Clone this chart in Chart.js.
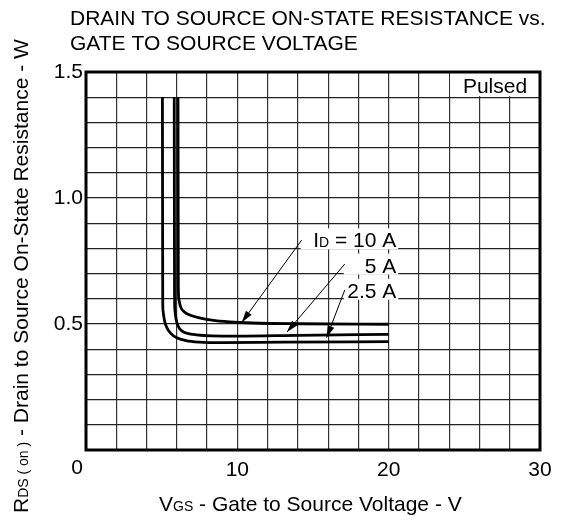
<!DOCTYPE html>
<html>
<head>
<meta charset="utf-8">
<script src="https://cdn.jsdelivr.net/npm/chart.js@4.4.1/dist/chart.umd.min.js"></script>
<style>
  html, body { margin: 0; padding: 0; background: #fff; }
  #wrap { width: 566px; height: 520px; position: relative; }
</style>
</head>
<body>
<div id="wrap"><canvas id="chart"></canvas></div>
<script>
// V_GS (V) and R_DS(on) (ohm)
const vgs10 = [6.08, 6.1, 6.13, 6.25, 6.5, 6.9, 7.5, 8.3, 9.5, 11, 14, 20];
const rds10 = [1.40, 0.66, 0.60, 0.568, 0.548, 0.535, 0.524, 0.515, 0.508, 0.504, 0.501, 0.499];

const vgs5 = [5.83, 5.85, 5.87, 5.95, 6.1, 6.35, 6.7, 7.3, 8.3, 10, 14, 20];
const rds5 = [1.40, 0.62, 0.56, 0.52, 0.49, 0.472, 0.463, 0.457, 0.453, 0.452, 0.455, 0.459];

const vgs25 = [5.05, 5.07, 5.09, 5.2, 5.35, 5.6, 6.0, 6.6, 7.5, 9, 13, 20];
const rds25 = [1.40, 0.60, 0.552, 0.51, 0.485, 0.463, 0.445, 0.434, 0.428, 0.426, 0.428, 0.430];

const xTickLabels = [10, 20, 30];
const yTickLabels = ['0.5', '1.0', '1.5'];

// leader labels, in data units
const curveNotes = [
  { text: ['I', 'D', ' = 10 A'], labelX: 20.5, labelY: 0.8, fromX: 14.25, fromY: 0.833, toX: 10.29, toY: 0.506 },
  { text: ['', '', '5 A'], labelX: 20.5, labelY: 0.7, fromX: 17.1, fromY: 0.738, toX: 13.28, toY: 0.468 },
  { text: ['', '', '2.5 A'], labelX: 20.5, labelY: 0.6, fromX: 17.1, fromY: 0.635, toX: 15.9, toY: 0.446 },
];

const FONT = '"Liberation Sans", Arial, sans-serif';
const BIG = 21;
const SMALL = 14;

function toPoints(xs, ys) {
  return xs.map((x, i) => ({ x: x, y: ys[i] }));
}

function drawRich(ctx, parts, x, y) {
  let cx = x;
  parts.forEach((p) => {
    ctx.font = p.size + 'px ' + FONT;
    ctx.fillText(p.t, cx, y);
    cx += ctx.measureText(p.t).width;
  });
}

function richWidth(ctx, parts) {
  let w = 0;
  parts.forEach((p) => {
    ctx.font = p.size + 'px ' + FONT;
    w += ctx.measureText(p.t).width;
  });
  return w;
}

function noteParts(text) {
  return [
    { t: text[0], size: BIG },
    { t: text[1], size: SMALL },
    { t: text[2], size: BIG },
  ];
}

const datasheetText = {
  id: 'datasheetText',
  beforeDatasetsDraw(chart) {
    const { ctx, chartArea, scales: { x, y } } = chart;
    ctx.save();
    ctx.fillStyle = '#fff';
    // box behind "Pulsed"
    ctx.fillRect(x.getPixelForValue(24) + 1, chartArea.top, chartArea.right - x.getPixelForValue(24) - 1, y.getPixelForValue(1.4) - chartArea.top - 1);
    // boxes behind the current labels
    curveNotes.forEach((n) => {
      const right = x.getPixelForValue(n.labelX);
      const base = y.getPixelForValue(n.labelY);
      const left = Math.min(right - richWidth(ctx, noteParts(n.text)), x.getPixelForValue(n.fromX)) - 1;
      ctx.fillStyle = '#fff';
      ctx.fillRect(left, base - 20, right - left + 2, 21);
    });
    ctx.restore();
  },
  afterDraw(chart) {
    const { ctx, chartArea, scales: { x, y } } = chart;
    ctx.save();

    // frame
    ctx.strokeStyle = '#000';
    ctx.lineWidth = 3;
    ctx.strokeRect(chartArea.left, chartArea.top, chartArea.right - chartArea.left, chartArea.bottom - chartArea.top);

    ctx.fillStyle = '#000';
    ctx.textBaseline = 'alphabetic';

    // Pulsed
    ctx.font = BIG + 'px ' + FONT;
    ctx.textAlign = 'right';
    ctx.fillText('Pulsed', x.getPixelForValue(29.15), y.getPixelForValue(1.417));
    ctx.textAlign = 'left';

    // leaders with arrow heads
    curveNotes.forEach((n) => {
      const x0 = x.getPixelForValue(n.fromX);
      const y0 = y.getPixelForValue(n.fromY);
      const x1 = x.getPixelForValue(n.toX);
      const y1 = y.getPixelForValue(n.toY);
      const ang = Math.atan2(y1 - y0, x1 - x0);
      ctx.strokeStyle = '#000';
      ctx.lineWidth = 1;
      ctx.beginPath();
      ctx.moveTo(x0, y0);
      ctx.lineTo(x1, y1);
      ctx.stroke();
      ctx.beginPath();
      ctx.moveTo(x1, y1);
      ctx.lineTo(x1 - 12 * Math.cos(ang) + 3.5 * Math.sin(ang), y1 - 12 * Math.sin(ang) - 3.5 * Math.cos(ang));
      ctx.lineTo(x1 - 12 * Math.cos(ang) - 3.5 * Math.sin(ang), y1 - 12 * Math.sin(ang) + 3.5 * Math.cos(ang));
      ctx.closePath();
      ctx.fill();

      const parts = noteParts(n.text);
      const right = x.getPixelForValue(n.labelX);
      drawRich(ctx, parts, right - richWidth(ctx, parts), y.getPixelForValue(n.labelY) - 1);
    });

    // shared origin label
    ctx.font = BIG + 'px ' + FONT;
    ctx.textAlign = 'center';
    ctx.textBaseline = 'middle';
    ctx.fillText('0', chartArea.left - 9, chartArea.bottom + 18);

    // title
    ctx.textAlign = 'left';
    ctx.textBaseline = 'alphabetic';
    ctx.fillText('DRAIN TO SOURCE ON-STATE RESISTANCE vs.', 70, 25);
    ctx.fillText('GATE TO SOURCE VOLTAGE', 70, 50);

    // x title
    drawRich(ctx, [
      { t: 'V', size: BIG },
      { t: 'GS', size: SMALL },
      { t: ' - Gate to Source Voltage - V', size: BIG },
    ], 159, 511);

    // y title
    ctx.translate(28, 513);
    ctx.rotate(-Math.PI / 2);
    drawRich(ctx, [
      { t: 'R', size: BIG },
      { t: 'DS ( on )', size: SMALL },
      { t: ' - Drain to Source On-State Resistance - W', size: BIG },
    ], 0, 0);

    ctx.restore();
  },
};

const curveStyle = {
  borderColor: '#000',
  borderWidth: 2.8,
  pointRadius: 0,
  fill: false,
  cubicInterpolationMode: 'monotone',
};

new Chart(document.getElementById('chart'), {
  type: 'line',
  data: {
    datasets: [
      Object.assign({ label: 'ID = 10 A', data: toPoints(vgs10, rds10) }, curveStyle),
      Object.assign({ label: 'ID = 5 A', data: toPoints(vgs5, rds5) }, curveStyle),
      Object.assign({ label: 'ID = 2.5 A', data: toPoints(vgs25, rds25) }, curveStyle),
    ],
  },
  options: {
    responsive: true,
    maintainAspectRatio: false,
    animation: false,
    layout: { padding: { left: 0, top: 72, right: 26, bottom: 0 } },
    scales: {
      x: {
        type: 'linear',
        min: 0,
        max: 30,
        afterFit: (scale) => { scale.height = 70; },
        grid: { color: '#333', lineWidth: 1.2, drawTicks: false },
        border: { display: false },
        ticks: {
          stepSize: 2,
          autoSkip: false,
          maxRotation: 0,
          padding: 8,
          color: '#000',
          font: { size: BIG, family: FONT },
          callback: (val) => (xTickLabels.includes(val) ? String(val) : ''),
        },
      },
      y: {
        min: 0,
        max: 1.5,
        afterFit: (scale) => { scale.width = 86; },
        grid: { color: '#222', lineWidth: 1.2, drawTicks: false },
        border: { display: false },
        ticks: {
          stepSize: 0.1,
          autoSkip: false,
          padding: 3,
          color: '#000',
          font: { size: BIG, family: FONT },
          callback: (val) => {
            const s = (Math.round(val * 10) / 10).toFixed(1);
            return yTickLabels.includes(s) ? s : '';
          },
        },
      },
    },
    plugins: {
      legend: { display: false },
      tooltip: { enabled: false },
    },
  },
  plugins: [datasheetText],
});
</script>
</body>
</html>
